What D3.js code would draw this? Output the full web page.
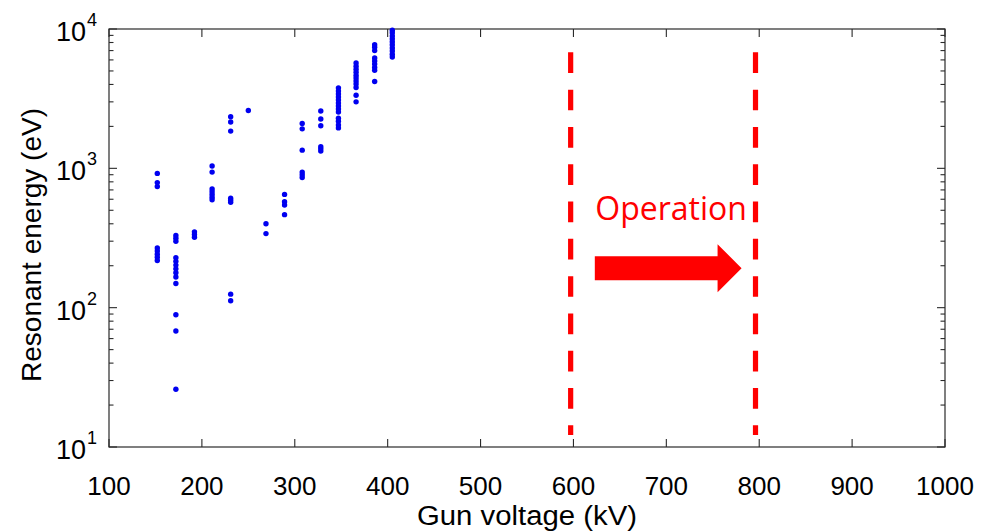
<!DOCTYPE html>
<html>
<head>
<meta charset="utf-8">
<script src="https://cdn.jsdelivr.net/npm/d3@7"></script>
<style>
  html, body { margin: 0; padding: 0; background: #fff; }
  svg { display: block; }
</style>
</head>
<body>
<svg id="chart" width="985" height="531"></svg>
<script>
// Gun voltage settings (kV) and the resonant energies (eV) found at each one
const gunVoltage = [152, 172, 192, 211, 231, 250, 269, 289, 308, 328, 347, 366, 386, 405];
const resonantEnergy = [
  [920, 790, 740, 268, 255, 242, 230, 218],
  [330, 315, 300, 228, 215, 202, 190, 178, 166, 149, 89, 68, 26],
  [350, 335, 320],
  [1040, 940, 710, 680, 650, 620, 595],
  [2350, 2150, 1850, 610, 590, 570, 125, 112],
  [2600],
  [400, 340],
  [650, 575, 545, 465],
  [2100, 1920, 1350, 940, 900, 860],
  [2580, 2260, 2020, 1430, 1380, 1330],
  [3780, 3590, 3415, 3250, 3090, 2940, 2800, 2665, 2536, 2290, 2175, 2050, 1950],
  [5700, 5400, 5150, 4900, 4650, 4450, 4230, 4030, 3800, 3350, 3000],
  [7700, 7400, 7000, 6200, 5900, 5600, 5300, 5050, 4200],
  [9800, 9400, 8900, 8500, 8100, 7700, 7300, 6950, 6600, 6300]
];

// Axis ticks
const xTicks = [100, 200, 300, 400, 500, 600, 700, 800, 900, 1000];
const yDecades = [10, 100, 1000, 10000];
const yExponents = ["1", "2", "3", "4"];

// Planned operating window (kV) and its annotation
const operationRange = [597, 796];
const operationLabel = "Operation";
const arrowSpan = [623, 781];      // kV
const arrowLevel = 192;            // eV
const dashedSpan = [12.2, 6800];   // eV

const svg = d3.select("#chart");
const margin = { left: 109, top: 29, right: 40, bottom: 84 };
const W = 985, H = 531;
const x0 = margin.left, x1 = W - margin.right;
const y0 = margin.top, y1 = H - margin.bottom;

const x = d3.scaleLinear().domain([100, 1000]).range([x0, x1]);
const y = d3.scaleLog().domain([10, 10000]).range([y1, y0]);

const axisColor = "#2a2a2a";
const font = "'Liberation Sans', Arial, sans-serif";

// Plot box
svg.append("rect")
  .attr("x", x0).attr("y", y0)
  .attr("width", x1 - x0).attr("height", y1 - y0)
  .attr("fill", "none").attr("stroke", axisColor).attr("stroke-width", 1.2);

// Inward ticks: bottom/top
const tickG = svg.append("g").attr("stroke", axisColor).attr("stroke-width", 1.1);
xTicks.forEach(v => {
  const px = x(v);
  tickG.append("line").attr("x1", px).attr("x2", px).attr("y1", y1).attr("y2", y1 - 8);
  tickG.append("line").attr("x1", px).attr("x2", px).attr("y1", y0).attr("y2", y0 + 8);
});

// Inward ticks: left/right, decades and minors
const minorTicks = [];
for (let d = 10; d < 10000; d *= 10) {
  for (let k = 2; k <= 9; k++) minorTicks.push(d * k);
}
yDecades.forEach(v => {
  const py = y(v);
  tickG.append("line").attr("x1", x0).attr("x2", x0 + 8).attr("y1", py).attr("y2", py);
  tickG.append("line").attr("x1", x1).attr("x2", x1 - 8).attr("y1", py).attr("y2", py);
});
minorTicks.forEach(v => {
  const py = y(v);
  tickG.append("line").attr("x1", x0).attr("x2", x0 + 4.5).attr("y1", py).attr("y2", py);
  tickG.append("line").attr("x1", x1).attr("x2", x1 - 4.5).attr("y1", py).attr("y2", py);
});

// X tick labels
svg.append("g").selectAll("text").data(xTicks).join("text")
  .attr("x", d => x(d)).attr("y", y1 + 48)
  .attr("text-anchor", "middle")
  .attr("font-family", font).attr("font-size", 26).attr("fill", "#000")
  .text(d => d);

// Y tick labels as powers of ten
yDecades.forEach((v, i) => {
  svg.append("text")
    .attr("x", x0 - 23).attr("y", y(v) + 12)
    .attr("text-anchor", "end")
    .attr("font-family", font).attr("font-size", 27).attr("fill", "#000")
    .text("10");
  svg.append("text")
    .attr("x", x0 - 22).attr("y", y(v) - 3)
    .attr("text-anchor", "start")
    .attr("font-family", font).attr("font-size", 18).attr("fill", "#000")
    .text(yExponents[i]);
});

// Axis titles
svg.append("text")
  .attr("x", (x0 + x1) / 2).attr("y", H - 6)
  .attr("text-anchor", "middle")
  .attr("font-family", font).attr("font-size", 27).attr("fill", "#000")
  .attr("textLength", 220).attr("lengthAdjust", "spacingAndGlyphs")
  .text("Gun voltage (kV)");

svg.append("text")
  .attr("transform", `translate(41,${(y0 + y1) / 2 + 7}) rotate(-90)`)
  .attr("text-anchor", "middle")
  .attr("font-family", font).attr("font-size", 28).attr("fill", "#000")
  .text("Resonant energy (eV)");

// Measured resonances
const points = [];
gunVoltage.forEach((v, i) => resonantEnergy[i].forEach(e => points.push({ v, e })));
svg.append("g").selectAll("circle").data(points).join("circle")
  .attr("cx", d => x(d.v)).attr("cy", d => y(d.e))
  .attr("r", 2.7)
  .attr("fill", "#0000f0");

// Operating window boundaries
svg.append("g").selectAll("line").data(operationRange).join("line")
  .attr("x1", d => x(d)).attr("x2", d => x(d))
  .attr("y1", y(dashedSpan[1])).attr("y2", y(dashedSpan[0]))
  .attr("stroke", "#ff0000").attr("stroke-width", 5.2)
  .attr("stroke-dasharray", "20.7 16.6");

// Arrow pointing into the operating window
const ax0 = x(arrowSpan[0]), ax1 = x(arrowSpan[1]), ay = y(arrowLevel);
const bodyHalf = 12, headHalf = 24, headLen = 24;
svg.append("path")
  .attr("d", [
    [ax0, ay - bodyHalf], [ax1 - headLen, ay - bodyHalf], [ax1 - headLen, ay - headHalf],
    [ax1, ay], [ax1 - headLen, ay + headHalf], [ax1 - headLen, ay + bodyHalf], [ax0, ay + bodyHalf]
  ].map((p, i) => (i ? "L" : "M") + p[0] + "," + p[1]).join("") + "Z")
  .attr("fill", "#ff0000");

svg.append("text")
  .attr("x", (x(operationRange[0]) + x(operationRange[1])) / 2 + 8)
  .attr("y", 220)
  .attr("text-anchor", "middle")
  .attr("font-family", "'Open Sans', 'Noto Sans', sans-serif")
  .attr("font-size", 32).attr("fill", "#ff0000")
  .text(operationLabel);
</script>
</body>
</html>
